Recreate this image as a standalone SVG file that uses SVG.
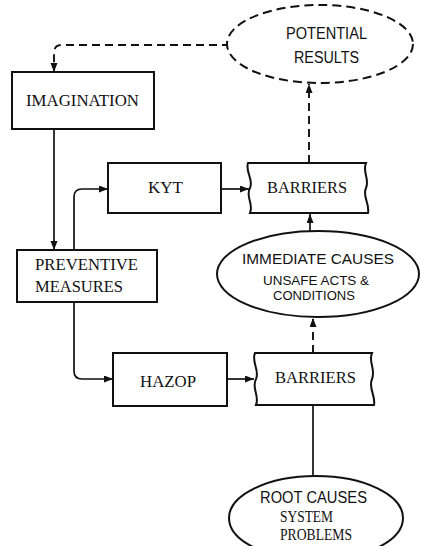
<svg xmlns="http://www.w3.org/2000/svg" width="422" height="546" viewBox="0 0 422 546">
<defs>
<marker id="ah" markerUnits="userSpaceOnUse" markerWidth="10" markerHeight="8" refX="9" refY="3.5" orient="auto">
<path d="M0,0 L9,3.5 L0,7 Z" fill="#111"/>
</marker>
<style>
.box{fill:#fff;stroke:#111;stroke-width:2}
.dbox{fill:#fff;stroke:#111;stroke-width:2;stroke-dasharray:9 5}
.ln{fill:none;stroke:#111;stroke-width:1.7}
.dl{fill:none;stroke:#111;stroke-width:1.9;stroke-dasharray:8 5}
.se{font-family:"Liberation Serif","Times New Roman",serif;font-size:16px;fill:#111}
.sa{font-family:"Liberation Sans",Arial,sans-serif;fill:#111}
</style>
</defs>
<rect width="422" height="546" fill="#fff"/>
<g id="connectors">
<path class="dl" d="M230,45 L62,45 Q54,45 54,53 L54,72" marker-end="url(#ah)"/>
<path class="ln" d="M54,129 L54,250" marker-end="url(#ah)"/>
<path class="ln" d="M74,250 L74,197 Q74,189 82,189 L108,189" marker-end="url(#ah)"/>
<path class="ln" d="M221,189 L249,189" marker-end="url(#ah)"/>
<path class="ln" d="M74,302 L74,371 Q74,379 82,379 L113,379" marker-end="url(#ah)"/>
<path class="ln" d="M227,379 L254,379" marker-end="url(#ah)"/>
<path class="dl" d="M309,163 L309,84" marker-end="url(#ah)"/>
<path class="ln" d="M310,231 L310,214" marker-end="url(#ah)"/>
<path class="dl" d="M313,353 L313,318" marker-end="url(#ah)"/>
<path class="ln" d="M313,476 L313,405"/>
</g>
<g id="potential-results">
<ellipse class="dbox" cx="320" cy="44" rx="93" ry="39"/>
<text class="sa" x="286" y="39" font-size="16" textLength="81" lengthAdjust="spacingAndGlyphs">POTENTIAL</text>
<text class="sa" x="294" y="63" font-size="16" textLength="65" lengthAdjust="spacingAndGlyphs">RESULTS</text>
</g>
<g id="imagination">
<rect class="box" x="12" y="72" width="142" height="57"/>
<text class="se" x="26" y="106" textLength="113" lengthAdjust="spacingAndGlyphs">IMAGINATION</text>
</g>
<g id="preventive-measures">
<rect class="box" x="17" y="250" width="140" height="52"/>
<text class="se" x="35" y="270" textLength="103" lengthAdjust="spacingAndGlyphs">PREVENTIVE</text>
<text class="se" x="35" y="292" textLength="88" lengthAdjust="spacingAndGlyphs">MEASURES</text>
</g>
<g id="kyt">
<rect class="box" x="108" y="163" width="113" height="50"/>
<text class="se" x="148" y="193" textLength="35" lengthAdjust="spacingAndGlyphs">KYT</text>
</g>
<g id="barriers-upper">
<path class="box" d="M248,163 L366,163 C362,172 370,179 366,188 C362,196 370,204 368,213 L250,213 C254,204 245,196 250,188 C254,180 245,172 248,163 Z"/>
<text class="se" x="267" y="193" textLength="80" lengthAdjust="spacingAndGlyphs">BARRIERS</text>
</g>
<g id="immediate-causes">
<ellipse class="box" cx="318" cy="274" rx="101" ry="43"/>
<text class="sa" x="242" y="264" font-size="15" textLength="152" lengthAdjust="spacingAndGlyphs">IMMEDIATE CAUSES</text>
<text class="sa" x="263" y="285" font-size="13" textLength="106" lengthAdjust="spacingAndGlyphs">UNSAFE ACTS &amp;</text>
<text class="sa" x="273" y="300" font-size="13" textLength="82" lengthAdjust="spacingAndGlyphs">CONDITIONS</text>
</g>
<g id="hazop">
<rect class="box" x="113" y="353" width="114" height="53"/>
<text class="se" x="140" y="387" textLength="56" lengthAdjust="spacingAndGlyphs">HAZOP</text>
</g>
<g id="barriers-lower">
<path class="box" d="M255,353 L372,353 C368,362 376,369 372,379 C368,388 376,396 374,405 L256,405 C260,396 251,388 256,379 C260,370 251,362 255,353 Z"/>
<text class="se" x="275" y="383" textLength="81" lengthAdjust="spacingAndGlyphs">BARRIERS</text>
</g>
<g id="root-causes">
<ellipse class="box" cx="316" cy="518" rx="87" ry="42"/>
<text class="sa" x="260" y="503" font-size="16" textLength="107" lengthAdjust="spacingAndGlyphs">ROOT CAUSES</text>
<text class="se" x="280" y="522" font-size="13.5" textLength="53" lengthAdjust="spacingAndGlyphs">SYSTEM</text>
<text class="se" x="280" y="540" font-size="13.5" textLength="72" lengthAdjust="spacingAndGlyphs">PROBLEMS</text>
</g>
</svg>
